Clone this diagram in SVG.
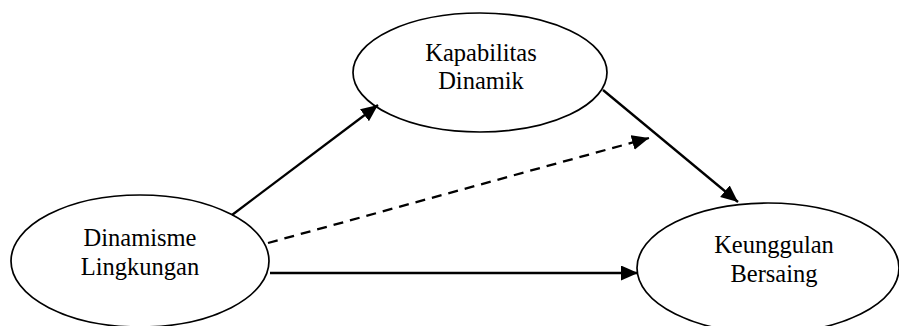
<svg xmlns="http://www.w3.org/2000/svg" width="899" height="326" viewBox="0 0 899 326">
<style>
.node ellipse{fill:#fff;stroke:#000;stroke-width:1.7}
.node text{font-family:"Liberation Serif","Times New Roman",serif;font-size:24.5px;fill:#000;text-anchor:middle}
.edge{stroke:#000;stroke-width:2.3;fill:none}
.dash{stroke-dasharray:10 7}
</style>
<defs>
<marker id="ah" markerUnits="userSpaceOnUse" markerWidth="18" markerHeight="16" refX="17" refY="7.5" orient="auto">
<path d="M0,0 L17,7.5 L0,15 z" fill="#000"/>
</marker>
</defs>
<rect width="899" height="326" fill="#fff"/>
<g id="node-kapabilitas" class="node">
<ellipse cx="480" cy="72.5" rx="127" ry="59.5"/>
<text x="481" y="61">Kapabilitas</text>
<text x="481" y="89">Dinamik</text>
</g>
<g id="node-dinamisme" class="node">
<ellipse cx="140" cy="261" rx="129" ry="66"/>
<text x="140" y="246">Dinamisme</text>
<text x="140" y="275">Lingkungan</text>
</g>
<g id="node-keunggulan" class="node">
<ellipse cx="768" cy="268" rx="131" ry="65"/>
<text x="774" y="253">Keunggulan</text>
<text x="774" y="282">Bersaing</text>
</g>
<g id="connectors">
<line class="edge" x1="232" y1="215" x2="378" y2="105" marker-end="url(#ah)"/>
<line class="edge dash" x1="268" y1="243" x2="649" y2="138" marker-end="url(#ah)"/>
<line class="edge" x1="270" y1="273" x2="638" y2="273" marker-end="url(#ah)"/>
<line class="edge" x1="603" y1="90" x2="738" y2="202" marker-end="url(#ah)"/>
</g>
</svg>
